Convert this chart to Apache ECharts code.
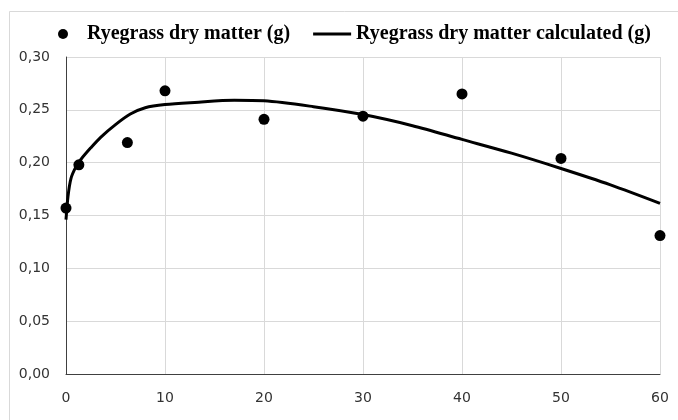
<!DOCTYPE html>
<html>
<head>
<meta charset="utf-8">
<script src="https://cdn.jsdelivr.net/npm/echarts@6/dist/echarts.min.js"></script>
<style>html,body{margin:0;padding:0;background:#fff}#c{width:678px;height:420px}</style>
</head>
<body>
<div id="c"></div>
<script>
// Measured points
var measuredX = [0, 1.3, 6.2, 10, 20, 30, 40, 50, 60];
var measuredY = [0.157, 0.198, 0.219, 0.268, 0.241, 0.244, 0.265, 0.204, 0.131];
// Calculated curve
var calcX = [0, 0.2, 0.5, 1, 1.5, 2.5, 3.5, 5, 6.5, 8, 10, 13, 17, 20, 25, 30, 35, 40, 45, 50, 55, 60];
var calcY = [0.146, 0.168, 0.185, 0.196, 0.203, 0.214, 0.224, 0.236, 0.246, 0.252, 0.255, 0.257, 0.259, 0.2585, 0.253, 0.2455, 0.235, 0.222, 0.209, 0.1945, 0.179, 0.1615];
var seriesNames = ['Ryegrass dry matter (g)', 'Ryegrass dry matter calculated (g)'];

function pairs(xs, ys) { return xs.map(function (x, i) { return [x, ys[i]]; }); }

var chart = echarts.init(document.getElementById('c'), null, {renderer: 'canvas'});
var labelFont = {fontFamily: '"DejaVu Sans"', fontSize: 14, color: '#333'};
chart.setOption({
  animation: false,
  backgroundColor: '#fff',
  graphic: [{
    type: 'rect', silent: true,
    shape: {x: 9.5, y: 11.5, width: 700, height: 500},
    style: {fill: 'none', stroke: '#d9d9d9', lineWidth: 1}
  }],
  legend: {
    top: 19, left: 53,
    itemGap: 23,
    textStyle: {fontFamily: 'Liberation Serif', fontWeight: 'bold', fontSize: 20, color: '#000'},
    data: [
      {name: seriesNames[0], icon: 'circle', itemStyle: {color: '#000', opacity: 1}},
      {name: seriesNames[1], icon: 'path://M0,0 L40,0 L40,3 L0,3 Z', itemStyle: {color: '#000'}}
    ],
    itemWidth: 38, itemHeight: 10
  },
  grid: {left: 66, right: 18, top: 57, bottom: 46},
  xAxis: {
    type: 'value', min: 0, max: 60, interval: 10,
    axisLine: {show: true, lineStyle: {color: '#404040', width: 1}},
    axisTick: {show: false},
    axisLabel: Object.assign({margin: 17}, labelFont),
    splitLine: {show: true, lineStyle: {color: '#d9d9d9', width: 1}}
  },
  yAxis: {
    type: 'value', min: 0, max: 0.30, interval: 0.05,
    axisLine: {show: true, lineStyle: {color: '#404040', width: 1}},
    axisTick: {show: false},
    axisLabel: Object.assign({margin: 16, formatter: function (v) { return v.toFixed(2).replace('.', ','); }}, labelFont),
    splitLine: {show: true, lineStyle: {color: '#d9d9d9', width: 1}}
  },
  series: [
    {
      name: seriesNames[0], type: 'scatter', data: pairs(measuredX, measuredY),
      symbol: 'circle', symbolSize: 11, itemStyle: {color: '#000', opacity: 1}, z: 3
    },
    {
      name: seriesNames[1], type: 'line', data: pairs(calcX, calcY),
      smooth: 0.3, showSymbol: false, symbol: 'none',
      lineStyle: {color: '#000', width: 3}, itemStyle: {color: '#000'}, z: 2
    }
  ]
});
</script>
</body>
</html>
